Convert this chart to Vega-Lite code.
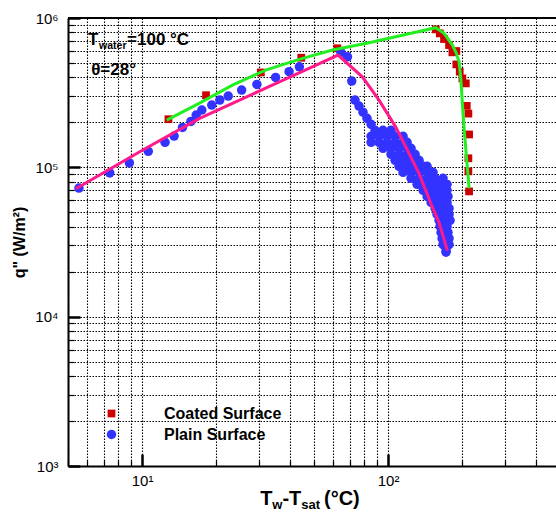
{
  "$schema": "https://vega.github.io/schema/vega-lite/v6.json",
  "width": 488,
  "height": 448,
  "autosize": {"type": "none"},
  "padding": {"left": 68, "top": 18, "right": 0, "bottom": 49},
  "config": {"view": {"stroke": null}, "font": "Liberation Sans"},
  "datasets": {
    "points": [
      {"series": "Coated Surface", "x": 12.8, "y": 210000},
      {"series": "Coated Surface", "x": 18.2, "y": 304000},
      {"series": "Coated Surface", "x": 30.4, "y": 432000},
      {"series": "Coated Surface", "x": 44.4, "y": 542000},
      {"series": "Coated Surface", "x": 62.2, "y": 627000},
      {"series": "Coated Surface", "x": 156.3, "y": 839000},
      {"series": "Coated Surface", "x": 162.3, "y": 789000},
      {"series": "Coated Surface", "x": 168.9, "y": 723000},
      {"series": "Coated Surface", "x": 177.0, "y": 659000},
      {"series": "Coated Surface", "x": 182.6, "y": 589000},
      {"series": "Coated Surface", "x": 189.5, "y": 601000},
      {"series": "Coated Surface", "x": 189.5, "y": 489000},
      {"series": "Coated Surface", "x": 195.6, "y": 437000},
      {"series": "Coated Surface", "x": 200.5, "y": 394000},
      {"series": "Coated Surface", "x": 207.0, "y": 365000},
      {"series": "Coated Surface", "x": 208.9, "y": 258000},
      {"series": "Coated Surface", "x": 212.1, "y": 229000},
      {"series": "Coated Surface", "x": 213.5, "y": 166000},
      {"series": "Coated Surface", "x": 212.1, "y": 115000},
      {"series": "Coated Surface", "x": 212.1, "y": 94000},
      {"series": "Coated Surface", "x": 213.5, "y": 69000},
      {"series": "Plain Surface", "x": 5.54, "y": 72600},
      {"series": "Plain Surface", "x": 7.39, "y": 91700},
      {"series": "Plain Surface", "x": 8.88, "y": 107000},
      {"series": "Plain Surface", "x": 10.6, "y": 128000},
      {"series": "Plain Surface", "x": 12.4, "y": 147000},
      {"series": "Plain Surface", "x": 13.5, "y": 162000},
      {"series": "Plain Surface", "x": 14.6, "y": 185000},
      {"series": "Plain Surface", "x": 15.8, "y": 203000},
      {"series": "Plain Surface", "x": 16.6, "y": 224000},
      {"series": "Plain Surface", "x": 17.5, "y": 242000},
      {"series": "Plain Surface", "x": 19.2, "y": 261000},
      {"series": "Plain Surface", "x": 20.7, "y": 282000},
      {"series": "Plain Surface", "x": 22.4, "y": 300000},
      {"series": "Plain Surface", "x": 25.4, "y": 329000},
      {"series": "Plain Surface", "x": 29.3, "y": 359000},
      {"series": "Plain Surface", "x": 34.9, "y": 400000},
      {"series": "Plain Surface", "x": 39.6, "y": 437000},
      {"series": "Plain Surface", "x": 43.6, "y": 471000},
      {"series": "Plain Surface", "x": 64.3, "y": 589000},
      {"series": "Plain Surface", "x": 68.4, "y": 550000},
      {"series": "Plain Surface", "x": 71.2, "y": 378000},
      {"series": "Plain Surface", "x": 73.4, "y": 282000},
      {"series": "Plain Surface", "x": 76.2, "y": 257000},
      {"series": "Plain Surface", "x": 79.1, "y": 234000},
      {"series": "Plain Surface", "x": 82.1, "y": 213000},
      {"series": "Plain Surface", "x": 85.3, "y": 194000},
      {"series": "Plain Surface", "x": 88.5, "y": 177000},
      {"series": "Plain Surface", "x": 95.4, "y": 177000},
      {"series": "Plain Surface", "x": 102.8, "y": 177000},
      {"series": "Plain Surface", "x": 85.3, "y": 161500},
      {"series": "Plain Surface", "x": 91.9, "y": 161500},
      {"series": "Plain Surface", "x": 99.1, "y": 161500},
      {"series": "Plain Surface", "x": 106.8, "y": 161500},
      {"series": "Plain Surface", "x": 115.1, "y": 161500},
      {"series": "Plain Surface", "x": 85.3, "y": 147000},
      {"series": "Plain Surface", "x": 91.9, "y": 147000},
      {"series": "Plain Surface", "x": 99.1, "y": 147000},
      {"series": "Plain Surface", "x": 106.8, "y": 147000},
      {"series": "Plain Surface", "x": 115.1, "y": 147000},
      {"series": "Plain Surface", "x": 119.5, "y": 147000},
      {"series": "Plain Surface", "x": 95.4, "y": 134000},
      {"series": "Plain Surface", "x": 102.8, "y": 134000},
      {"series": "Plain Surface", "x": 110.8, "y": 134000},
      {"series": "Plain Surface", "x": 119.5, "y": 134000},
      {"series": "Plain Surface", "x": 124.0, "y": 134000},
      {"series": "Plain Surface", "x": 102.8, "y": 122300},
      {"series": "Plain Surface", "x": 110.8, "y": 122300},
      {"series": "Plain Surface", "x": 119.5, "y": 122300},
      {"series": "Plain Surface", "x": 128.8, "y": 122300},
      {"series": "Plain Surface", "x": 106.8, "y": 111400},
      {"series": "Plain Surface", "x": 115.1, "y": 111400},
      {"series": "Plain Surface", "x": 124.0, "y": 111400},
      {"series": "Plain Surface", "x": 133.7, "y": 111400},
      {"series": "Plain Surface", "x": 110.8, "y": 101600},
      {"series": "Plain Surface", "x": 119.5, "y": 101600},
      {"series": "Plain Surface", "x": 128.8, "y": 101600},
      {"series": "Plain Surface", "x": 138.8, "y": 101600},
      {"series": "Plain Surface", "x": 144.1, "y": 101600},
      {"series": "Plain Surface", "x": 115.1, "y": 92600},
      {"series": "Plain Surface", "x": 124.0, "y": 92600},
      {"series": "Plain Surface", "x": 133.7, "y": 92600},
      {"series": "Plain Surface", "x": 144.1, "y": 92600},
      {"series": "Plain Surface", "x": 152.4, "y": 92600},
      {"series": "Plain Surface", "x": 124.0, "y": 84400},
      {"series": "Plain Surface", "x": 133.7, "y": 84400},
      {"series": "Plain Surface", "x": 144.1, "y": 84400},
      {"series": "Plain Surface", "x": 155.3, "y": 84400},
      {"series": "Plain Surface", "x": 167.3, "y": 84400},
      {"series": "Plain Surface", "x": 131.2, "y": 76900},
      {"series": "Plain Surface", "x": 141.4, "y": 76900},
      {"series": "Plain Surface", "x": 152.4, "y": 76900},
      {"series": "Plain Surface", "x": 164.2, "y": 76900},
      {"series": "Plain Surface", "x": 173.7, "y": 76900},
      {"series": "Plain Surface", "x": 138.8, "y": 70100},
      {"series": "Plain Surface", "x": 149.6, "y": 70100},
      {"series": "Plain Surface", "x": 161.2, "y": 70100},
      {"series": "Plain Surface", "x": 173.7, "y": 70100},
      {"series": "Plain Surface", "x": 144.1, "y": 63900},
      {"series": "Plain Surface", "x": 155.3, "y": 63900},
      {"series": "Plain Surface", "x": 167.3, "y": 63900},
      {"series": "Plain Surface", "x": 175.3, "y": 63900},
      {"series": "Plain Surface", "x": 149.6, "y": 58200},
      {"series": "Plain Surface", "x": 161.2, "y": 58200},
      {"series": "Plain Surface", "x": 173.7, "y": 58200},
      {"series": "Plain Surface", "x": 155.3, "y": 53100},
      {"series": "Plain Surface", "x": 165.8, "y": 53100},
      {"series": "Plain Surface", "x": 177.0, "y": 53100},
      {"series": "Plain Surface", "x": 158.2, "y": 48400},
      {"series": "Plain Surface", "x": 168.9, "y": 48400},
      {"series": "Plain Surface", "x": 177.0, "y": 48400},
      {"series": "Plain Surface", "x": 161.2, "y": 44100},
      {"series": "Plain Surface", "x": 172.1, "y": 44100},
      {"series": "Plain Surface", "x": 178.7, "y": 44100},
      {"series": "Plain Surface", "x": 162.7, "y": 40200},
      {"series": "Plain Surface", "x": 173.7, "y": 40200},
      {"series": "Plain Surface", "x": 164.2, "y": 36600},
      {"series": "Plain Surface", "x": 175.3, "y": 36600},
      {"series": "Plain Surface", "x": 165.8, "y": 33400},
      {"series": "Plain Surface", "x": 177.0, "y": 33400},
      {"series": "Plain Surface", "x": 167.3, "y": 30400},
      {"series": "Plain Surface", "x": 177.0, "y": 30400},
      {"series": "Plain Surface", "x": 172.1, "y": 27700},
      {"series": "Plain Surface", "x": 172.0, "y": 27000}
    ],
    "fits": [
      {"curve": "coated", "x": 12.6, "y": 207000},
      {"curve": "coated", "x": 17.05, "y": 268000},
      {"curve": "coated", "x": 23.3, "y": 355000},
      {"curve": "coated", "x": 31.8, "y": 448000},
      {"curve": "coated", "x": 43.5, "y": 528000},
      {"curve": "coated", "x": 59.4, "y": 610000},
      {"curve": "coated", "x": 83.7, "y": 683000},
      {"curve": "coated", "x": 110.8, "y": 758000},
      {"curve": "coated", "x": 156.3, "y": 861000},
      {"curve": "coated", "x": 168.9, "y": 789000},
      {"curve": "coated", "x": 182.6, "y": 659000},
      {"curve": "coated", "x": 189.5, "y": 580000},
      {"curve": "coated", "x": 194.4, "y": 507000},
      {"curve": "coated", "x": 197.5, "y": 396000},
      {"curve": "coated", "x": 199.9, "y": 290000},
      {"curve": "coated", "x": 203.7, "y": 183000},
      {"curve": "coated", "x": 208.1, "y": 120000},
      {"curve": "coated", "x": 213.5, "y": 72300},
      {"curve": "plain", "x": 5.38, "y": 71900},
      {"curve": "plain", "x": 10.03, "y": 130000},
      {"curve": "plain", "x": 17.05, "y": 212000},
      {"curve": "plain", "x": 23.3, "y": 268000},
      {"curve": "plain", "x": 31.8, "y": 339000},
      {"curve": "plain", "x": 43.5, "y": 429000},
      {"curve": "plain", "x": 62.6, "y": 565000},
      {"curve": "plain", "x": 78.6, "y": 404000},
      {"curve": "plain", "x": 91.9, "y": 282000},
      {"curve": "plain", "x": 107.5, "y": 186000},
      {"curve": "plain", "x": 118.0, "y": 137000},
      {"curve": "plain", "x": 133.7, "y": 90700},
      {"curve": "plain", "x": 142.3, "y": 70100},
      {"curve": "plain", "x": 151.4, "y": 54100},
      {"curve": "plain", "x": 161.2, "y": 42700},
      {"curve": "plain", "x": 174.2, "y": 27700}
    ]
  },
  "layer": [
    {
      "data": {"name": "points"},
      "mark": {"type": "point", "filled": true, "opacity": 1, "strokeWidth": 0},
      "encoding": {
        "x": {
          "field": "x", "type": "quantitative", "title": null,
          "scale": {"type": "log", "domain": [5, 481.6], "nice": false},
          "axis": {
            "values": [5, 6, 7, 8, 9, 10, 20, 30, 40, 50, 60, 70, 80, 90, 100, 200, 300, 400],
            "labelExpr": "datum.value == 10 ? '10¹' : datum.value == 100 ? '10²' : ''",
            "labelFont": "Liberation Sans", "labelFontSize": 15, "labelColor": "#000",
            "labelPadding": 19, "labelFlush": false, "labelOverlap": false, "labelBound": false,
            "grid": true, "gridColor": "#000", "gridDash": [1.5, 1.5], "gridWidth": 1.1, "gridOpacity": 1,
            "domainColor": "#000", "domainWidth": 2,
            "tickColor": "#000",
            "tickSize": {"condition": {"test": "datum.value == 10 || datum.value == 100", "value": -12}, "value": -6},
            "tickWidth": {"condition": {"test": "datum.value == 10 || datum.value == 100", "value": 2.5}, "value": 1.2}
          }
        },
        "y": {
          "field": "y", "type": "quantitative", "title": "q\" (W/m²)",
          "scale": {"type": "log", "domain": [1000, 1000000], "nice": false},
          "axis": {
            "values": [1000, 2000, 3000, 4000, 5000, 6000, 7000, 8000, 9000, 10000, 20000, 30000, 40000, 50000, 60000, 70000, 80000, 90000, 100000, 200000, 300000, 400000, 500000, 600000, 700000, 800000, 900000, 1000000],
            "labelExpr": "datum.value == 1000 ? '10³' : datum.value == 10000 ? '10⁴' : datum.value == 100000 ? '10⁵' : datum.value == 1000000 ? '10⁶' : ''",
            "labelFont": "Liberation Sans", "labelFontSize": 15, "labelColor": "#000",
            "labelPadding": 22, "labelFlush": false, "labelOverlap": false, "labelBound": false,
            "grid": true, "gridColor": "#000", "gridDash": [1.5, 1.5], "gridWidth": 1.1, "gridOpacity": 1,
            "domainColor": "#000", "domainWidth": 2,
            "tickColor": "#000",
            "tickSize": {"condition": {"test": "datum.value == 1000 || datum.value == 10000 || datum.value == 100000 || datum.value == 1000000", "value": -12}, "value": -6},
            "tickWidth": {"condition": {"test": "datum.value == 1000 || datum.value == 10000 || datum.value == 100000 || datum.value == 1000000", "value": 2.5}, "value": 1.2},
            "titleFont": "Liberation Sans", "titleFontSize": 16, "titleFontWeight": "bold", "titleColor": "#000",
            "titleX": -41, "titleY": 224, "titleAngle": 270, "titleBaseline": "bottom", "titleAlign": "center"
          }
        },
        "color": {
          "field": "series", "type": "nominal",
          "scale": {"domain": ["Coated Surface", "Plain Surface"], "range": ["#cc0000", "#3333ff"]},
          "legend": {"title": null, "orient": "none", "legendX": 35.5, "legendY": 387.5, "padding": 0, "labelFont": "Liberation Sans", "labelFontSize": 16, "labelFontWeight": "bold", "labelColor": "#000", "labelOffset": 44.5, "rowPadding": 5}
        },
        "shape": {
          "field": "series", "type": "nominal",
          "scale": {"domain": ["Coated Surface", "Plain Surface"], "range": ["square", "circle"]},
          "legend": {"title": null, "orient": "none", "legendX": 35.5, "legendY": 387.5, "padding": 0, "labelFont": "Liberation Sans", "labelFontSize": 16, "labelFontWeight": "bold", "labelColor": "#000", "labelOffset": 44.5, "rowPadding": 5}
        },
        "size": {
          "field": "series", "type": "nominal",
          "scale": {"domain": ["Coated Surface", "Plain Surface"], "range": [60, 90]},
          "legend": {"title": null, "orient": "none", "legendX": 35.5, "legendY": 387.5, "padding": 0, "labelFont": "Liberation Sans", "labelFontSize": 16, "labelFontWeight": "bold", "labelColor": "#000", "labelOffset": 44.5, "rowPadding": 5}
        }
      }
    },
    {
      "data": {"name": "fits"},
      "transform": [{"filter": "datum.curve == 'coated'"}],
      "mark": {"type": "line", "color": "#22ee22", "strokeWidth": 3},
      "encoding": {
        "x": {"field": "x", "type": "quantitative", "title": null, "scale": {"type": "log", "domain": [5, 481.6], "nice": false}},
        "y": {"field": "y", "type": "quantitative", "title": "q\" (W/m²)", "scale": {"type": "log", "domain": [1000, 1000000], "nice": false}}
      }
    },
    {
      "data": {"name": "fits"},
      "transform": [{"filter": "datum.curve == 'plain'"}],
      "mark": {"type": "line", "color": "#ff1a8c", "strokeWidth": 3},
      "encoding": {
        "x": {"field": "x", "type": "quantitative", "title": null, "scale": {"type": "log", "domain": [5, 481.6], "nice": false}},
        "y": {"field": "y", "type": "quantitative", "title": "q\" (W/m²)", "scale": {"type": "log", "domain": [1000, 1000000], "nice": false}}
      }
    },
    {
      "data": {"values": [{}]},
      "mark": {"type": "rule", "color": "#000", "strokeWidth": 2},
      "encoding": {
        "y": {"datum": 1000000, "type": "quantitative", "title": "q\" (W/m²)", "scale": {"type": "log", "domain": [1000, 1000000], "nice": false}}
      }
    },
    {
      "data": {"values": [{}]},
      "mark": {"type": "text", "text": "T", "align": "left", "baseline": "alphabetic", "fontSize": 17, "fontWeight": "bold", "color": "#000", "font": "Liberation Sans"},
      "encoding": {
        "x": {"datum": 6.03, "type": "quantitative", "title": null, "scale": {"type": "log", "domain": [5, 481.6], "nice": false}},
        "y": {"datum": 659000, "type": "quantitative", "title": "q\" (W/m²)", "scale": {"type": "log", "domain": [1000, 1000000], "nice": false}}
      }
    },
    {
      "data": {"values": [{}]},
      "mark": {"type": "text", "text": "water", "align": "left", "baseline": "alphabetic", "fontSize": 10.5, "fontWeight": "bold", "color": "#000", "font": "Liberation Sans"},
      "encoding": {
        "x": {"datum": 6.69, "type": "quantitative", "title": null, "scale": {"type": "log", "domain": [5, 481.6], "nice": false}},
        "y": {"datum": 619000, "type": "quantitative", "title": "q\" (W/m²)", "scale": {"type": "log", "domain": [1000, 1000000], "nice": false}}
      }
    },
    {
      "data": {"values": [{}]},
      "mark": {"type": "text", "text": "=100 °C", "align": "left", "baseline": "alphabetic", "fontSize": 17, "fontWeight": "bold", "color": "#000", "font": "Liberation Sans"},
      "encoding": {
        "x": {"datum": 8.69, "type": "quantitative", "title": null, "scale": {"type": "log", "domain": [5, 481.6], "nice": false}},
        "y": {"datum": 659000, "type": "quantitative", "title": "q\" (W/m²)", "scale": {"type": "log", "domain": [1000, 1000000], "nice": false}}
      }
    },
    {
      "data": {"values": [{}]},
      "mark": {"type": "text", "text": "θ=28°", "align": "left", "baseline": "alphabetic", "fontSize": 17, "fontWeight": "bold", "color": "#000", "font": "Liberation Sans"},
      "encoding": {
        "x": {"datum": 6.21, "type": "quantitative", "title": null, "scale": {"type": "log", "domain": [5, 481.6], "nice": false}},
        "y": {"datum": 414000, "type": "quantitative", "title": "q\" (W/m²)", "scale": {"type": "log", "domain": [1000, 1000000], "nice": false}}
      }
    },
    {
      "data": {"values": [{}]},
      "mark": {"type": "text", "text": "T", "align": "left", "baseline": "alphabetic", "fontSize": 20, "fontWeight": "bold", "color": "#000", "font": "Liberation Sans"},
      "encoding": {
        "x": {"datum": 30.2, "type": "quantitative", "title": null, "scale": {"type": "log", "domain": [5, 481.6], "nice": false}},
        "y": {"datum": 547, "type": "quantitative", "title": "q\" (W/m²)", "scale": {"type": "log", "domain": [1000, 1000000], "nice": false}}
      }
    },
    {
      "data": {"values": [{}]},
      "mark": {"type": "text", "text": "w", "align": "left", "baseline": "alphabetic", "fontSize": 13, "fontWeight": "bold", "color": "#000", "font": "Liberation Sans"},
      "encoding": {
        "x": {"datum": 33.8, "type": "quantitative", "title": null, "scale": {"type": "log", "domain": [5, 481.6], "nice": false}},
        "y": {"datum": 514, "type": "quantitative", "title": "q\" (W/m²)", "scale": {"type": "log", "domain": [1000, 1000000], "nice": false}}
      }
    },
    {
      "data": {"values": [{}]},
      "mark": {"type": "text", "text": "-T", "align": "left", "baseline": "alphabetic", "fontSize": 20, "fontWeight": "bold", "color": "#000", "font": "Liberation Sans"},
      "encoding": {
        "x": {"datum": 37.2, "type": "quantitative", "title": null, "scale": {"type": "log", "domain": [5, 481.6], "nice": false}},
        "y": {"datum": 547, "type": "quantitative", "title": "q\" (W/m²)", "scale": {"type": "log", "domain": [1000, 1000000], "nice": false}}
      }
    },
    {
      "data": {"values": [{}]},
      "mark": {"type": "text", "text": "sat", "align": "left", "baseline": "alphabetic", "fontSize": 13, "fontWeight": "bold", "color": "#000", "font": "Liberation Sans"},
      "encoding": {
        "x": {"datum": 44.4, "type": "quantitative", "title": null, "scale": {"type": "log", "domain": [5, 481.6], "nice": false}},
        "y": {"datum": 514, "type": "quantitative", "title": "q\" (W/m²)", "scale": {"type": "log", "domain": [1000, 1000000], "nice": false}}
      }
    },
    {
      "data": {"values": [{}]},
      "mark": {"type": "text", "text": "(°C)", "align": "left", "baseline": "alphabetic", "fontSize": 20, "fontWeight": "bold", "color": "#000", "font": "Liberation Sans"},
      "encoding": {
        "x": {"datum": 54.9, "type": "quantitative", "title": null, "scale": {"type": "log", "domain": [5, 481.6], "nice": false}},
        "y": {"datum": 547, "type": "quantitative", "title": "q\" (W/m²)", "scale": {"type": "log", "domain": [1000, 1000000], "nice": false}}
      }
    }
  ]
}
